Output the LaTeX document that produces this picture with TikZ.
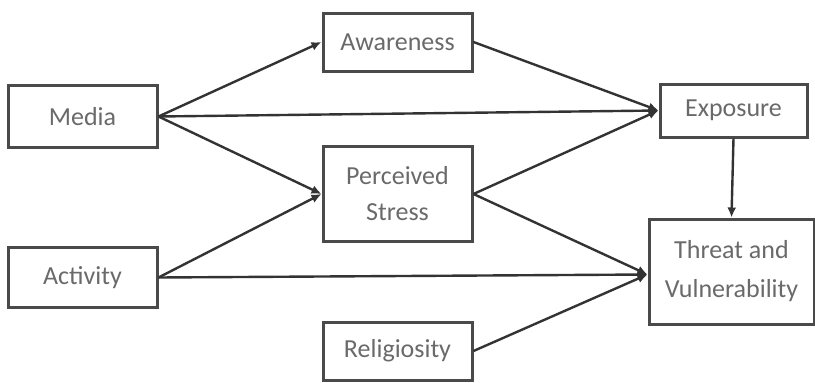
\documentclass[tikz,border=0pt]{standalone}
\usepackage{fontspec}
\setmainfont{Carlito}
\usetikzlibrary{arrows.meta,positioning}
\definecolor{boxline}{HTML}{4A4A4A}
\definecolor{arrline}{HTML}{333333}
\definecolor{labtext}{HTML}{6A6A6A}

\begin{document}
\begin{tikzpicture}[x=1pt,y=-1pt,line width=2.4pt,
 varbox/.style={draw=boxline,line width=3pt,fill=white,text=labtext,align=center,
  font=\fontsize{26}{30}\selectfont,inner sep=0pt},
 path/.style={draw=arrline,-{Latex[length=10pt,width=9pt]}}]
\useasboundingbox (0,0) rectangle (815,383);
\node[varbox,minimum width=149pt,minimum height=62pt] (media) at (82.5,116.5) {Media};
\node[varbox,minimum width=149pt,minimum height=60pt] (activity) at (82.5,277.5) {Activity};
\node[varbox,minimum width=149pt,minimum height=58pt] (aware) at (397.5,42) {Awareness};
\node[varbox,minimum width=149pt,minimum height=95pt] (stress) at (397.5,194) {Perceived\\[6pt]Stress};
\node[varbox,minimum width=149pt,minimum height=58pt] (relig) at (397.5,351) {Religiosity};
\node[varbox,minimum width=147pt,minimum height=53pt] (expo) at (733.5,110.5) {Exposure};
\node[varbox,minimum width=165pt,minimum height=105pt] (threat) at (731.5,271.5) {Threat and\\[9pt]Vulnerability};
% paths
\foreach \a/\b in {media/aware,media/expo,media/stress,activity/stress,aware/expo,stress/expo}
 \draw[path] (\a.east) -- (\b.west);
\foreach \a in {stress,activity,relig}
 \draw[path] (\a.east) -- ([yshift=-3pt]threat.west);
\draw[path] (expo.south) -- (threat.north);
\end{tikzpicture}
\end{document}
